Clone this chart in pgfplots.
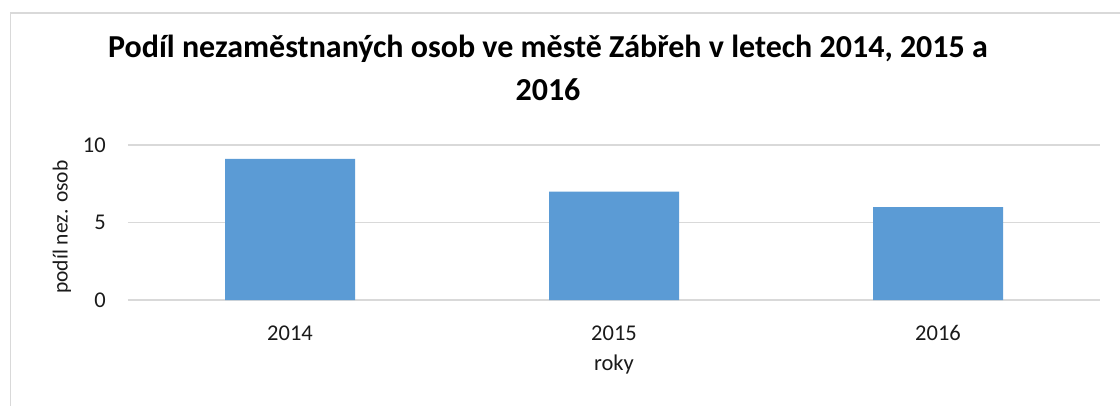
\documentclass[border=0pt]{standalone}
\usepackage{pgfplots}
\pgfplotsset{compat=1.18}
\usepackage{fontspec}
\setmainfont{Carlito}
\definecolor{gridgray}{HTML}{D9D9D9}
\definecolor{barblue}{HTML}{5B9BD5}
\definecolor{txt}{HTML}{1A1A1A}
\begin{document}
\begin{tikzpicture}[x=1pt,y=1pt]
\useasboundingbox (0,0) rectangle (1120,405);
\draw[gridgray, line width=1.5pt] (10.5,-5) -- (10.5,392) -- (1130,392);
\node[font=\bfseries\fontsize{32}{40}\selectfont, anchor=base] at (548,347) {Podíl nezaměstnaných osob ve městě Zábřeh v letech 2014, 2015 a};
\node[font=\bfseries\fontsize{32}{40}\selectfont, anchor=base] at (548,304) {2016};
\begin{axis}[
  at={(128pt,105pt)}, anchor=south west,
  scale only axis, width=972pt, height=155pt,
  xmin=-0.5, xmax=2.5, ymin=0, ymax=10,
  ytick={0,5,10}, xtick={0,1,2}, xticklabels={2014,2015,2016},
  axis line style={draw=none},
  major tick length=0pt,
  ymajorgrids, grid style={gridgray, line width=1.6pt},
  /pgf/number format/assume math mode=true,
  tick label style={font=\fontsize{22.5}{26}\selectfont, text=txt},
  yticklabel style={anchor=east, inner sep=0pt, xshift=-22pt},
  xticklabel style={anchor=base, inner sep=0pt, yshift=-40pt},
  xlabel={roky},
  xlabel style={at={(axis description cs:0.5,0)}, anchor=base, inner sep=0pt, yshift=-70pt, font=\fontsize{22.5}{26}\selectfont, text=txt},
  ylabel={podíl nez. osob},
  ylabel style={at={(axis description cs:-0.0679,0.47)}, anchor=center, inner sep=0pt, font=\fontsize{21.5}{26}\selectfont, text=txt},
]
\addplot[ybar, bar width=130pt, bar shift=0pt, fill=barblue, draw=none] coordinates {(0,9.1) (1,7.0) (2,6.0)};
\end{axis}
\end{tikzpicture}
\end{document}
